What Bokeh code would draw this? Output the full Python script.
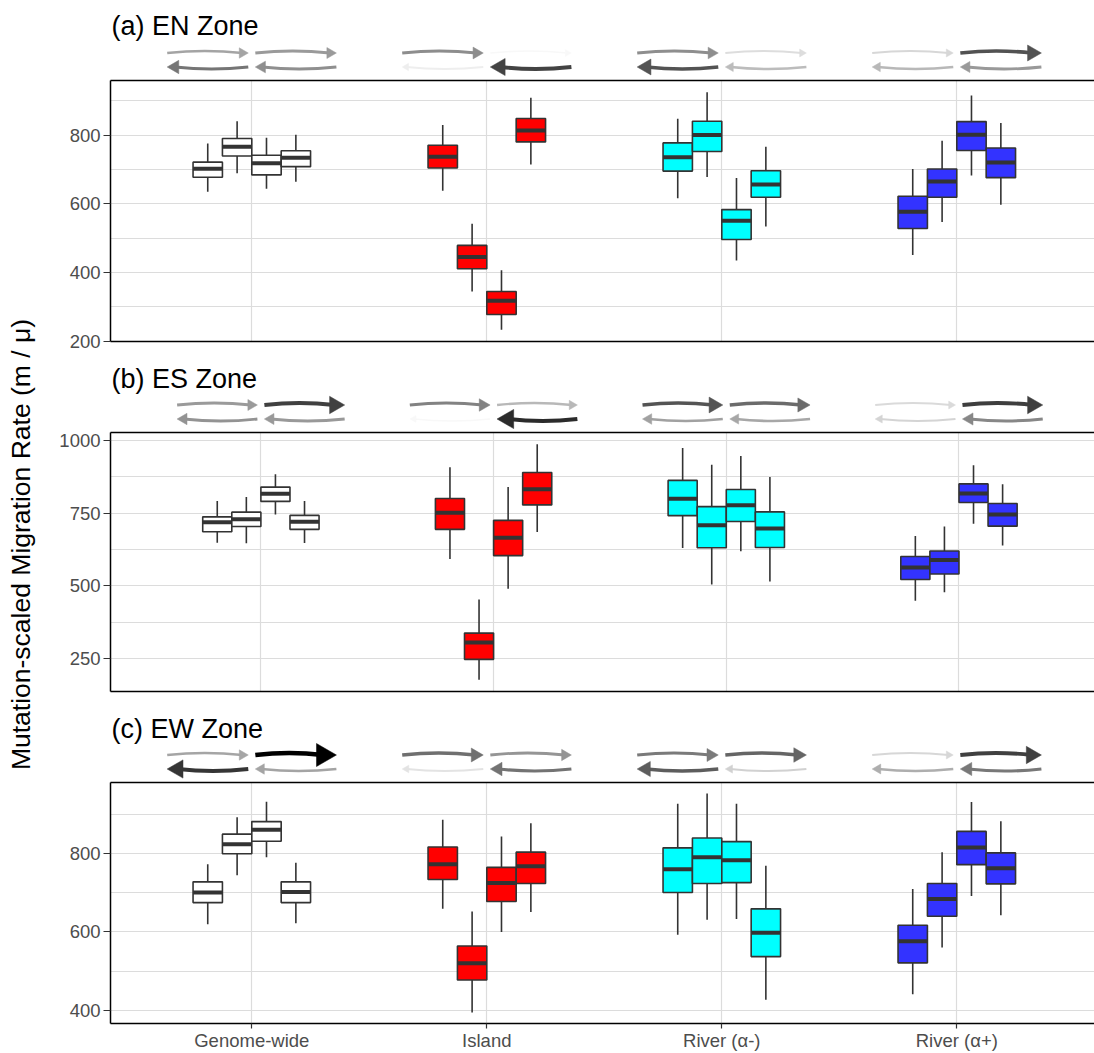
import math
from bokeh.plotting import figure
from bokeh.layouts import row, column
from bokeh.models import Range1d, FixedTicker, LinearAxis, ColumnDataSource, Label
from bokeh.core.properties import value
from bokeh.embed import file_html
from bokeh.resources import INLINE

# ---------------- data ----------------
categories = ["Genome-wide", "Island", "River (α-)", "River (α+)"]
category_fill = ["#FFFFFF", "#FF0000", "#00FFFF", "#3333FF"]

# 4 boxes per category, 16 values: lower whisker, Q1, median, Q3, upper whisker
EN_lower  = [635, 689, 644, 664, 638, 345, 234, 714, 616, 678, 435, 534, 451, 547, 682, 597]
EN_q1     = [677, 739, 684, 708, 704, 411, 278, 780, 695, 752, 496, 619, 528, 619, 755, 676]
EN_median = [702, 766, 718, 734, 737, 445, 318, 813, 735, 800, 551, 656, 577, 665, 801, 720]
EN_q3     = [721, 790, 741, 754, 770, 479, 345, 848, 777, 840, 583, 696, 622, 701, 839, 762]
EN_upper  = [775, 840, 792, 801, 829, 542, 407, 908, 847, 924, 675, 766, 701, 783, 915, 835]

ES_lower  = [648, 646, 745, 647, 592, 178, 490, 685, 630, 505, 619, 515, 449, 478, 713, 639]
ES_q1     = [686, 704, 790, 694, 694, 248, 604, 778, 741, 631, 721, 632, 522, 541, 786, 705]
ES_median = [718, 729, 816, 720, 751, 306, 665, 832, 799, 708, 777, 697, 563, 589, 817, 745]
ES_q3     = [737, 753, 839, 742, 800, 338, 725, 889, 862, 772, 831, 754, 601, 620, 850, 783]
ES_upper  = [791, 805, 883, 791, 907, 453, 839, 986, 973, 916, 946, 874, 671, 704, 914, 849]

EW_lower  = [620, 745, 791, 622, 659, 394, 600, 651, 593, 631, 633, 427, 441, 560, 692, 643]
EW_q1     = [675, 800, 832, 675, 734, 477, 678, 724, 701, 724, 726, 537, 521, 640, 772, 723]
EW_median = [701, 824, 861, 702, 773, 520, 725, 768, 760, 791, 783, 598, 576, 684, 816, 763]
EW_q3     = [728, 850, 882, 728, 817, 564, 765, 804, 815, 840, 831, 659, 617, 724, 857, 802]
EW_upper  = [773, 893, 933, 777, 887, 652, 844, 878, 928, 954, 928, 769, 710, 804, 932, 883]

EN_ticks, EN_minor = [200, 400, 600, 800], [300, 500, 700, 900]
ES_ticks, ES_minor = [250, 500, 750, 1000], [375, 625, 875]
EW_ticks, EW_minor = [400, 600, 800], [500, 700, 900]

titles = ["(a) EN Zone", "(b) ES Zone", "(c) EW Zone"]
y_title = "Mutation-scaled Migration Rate (m / μ)"

# ---------------- layout / style ----------------
FONT_NAME = "Liberation Sans"
FONT = value(FONT_NAME)
LABEL_W = 45
PANEL_W = 1049
FRAME_LEFT = 65
FRAME_W = PANEL_W - FRAME_LEFT
GRID = "#dcdcdc"
DARK = "#333333"
TICK_FS = "18.5px"
box_offsets = [-0.1875, -0.0625, 0.0625, 0.1875]
box_w = 0.125

zones = [
    dict(title=titles[0], lo=EN_lower, q1=EN_q1, med=EN_median, q3=EN_q3, hi=EN_upper,
         ticks=EN_ticks, minor=EN_minor, xr=(0.3987, 4.586), arr_h=77, plot_h=276,
         bottom=12, labels=False),
    dict(title=titles[1], lo=ES_lower, q1=ES_q1, med=ES_median, q3=ES_q3, hi=ES_upper,
         ticks=ES_ticks, minor=ES_minor, xr=(0.3537, 4.5824), arr_h=76, plot_h=274,
         bottom=12, labels=False),
    dict(title=titles[2], lo=EW_lower, q1=EW_q1, med=EW_median, q3=EW_q3, hi=EW_upper,
         ticks=EW_ticks, minor=EW_minor, xr=(0.3987, 4.586), arr_h=76, plot_h=274,
         bottom=0, labels=True),
]


def shade(m):
    a = min(1.0, math.exp((m - 860.0) / 153.0))
    g = int(round(255 * (1 - a)))
    return a, "#%02x%02x%02x" % (g, g, g)


def line_axis():
    return LinearAxis(ticker=FixedTicker(ticks=[]), major_tick_line_color=None,
                      minor_tick_line_color=None, major_label_text_font_size="0px",
                      major_tick_out=0, minor_tick_out=0, major_tick_in=0, minor_tick_in=0,
                      major_label_standoff=0, axis_line_color="black", axis_line_width=1.5)


def arrow_fig(z):
    xs, xe = z["xr"]
    u = FRAME_W / (xe - xs)
    h = z["arr_h"]
    p = figure(width=PANEL_W, height=h, x_range=Range1d(xs, xe), y_range=Range1d(0, h),
               x_axis_location=None, y_axis_location=None, toolbar_location=None,
               output_backend="svg", min_border_left=FRAME_LEFT, min_border_right=0,
               min_border_top=0, min_border_bottom=0, outline_line_color=None)
    p.grid.visible = False
    p.background_fill_color = "white"
    p.border_fill_color = "white"
    L = dict(x0=[], y0=[], x1=[], y1=[], cx=[], cy=[], c=[], w=[])
    H = dict(x=[], y=[], s=[], ang=[], c=[])
    for i in range(4):
        cc = i + 1
        for k in range(4):
            a, col = shade(z["med"][i * 4 + k])
            side = -1 if k < 2 else 1
            inner, outer = cc + side * 0.015, cc + side * 0.36
            lx, rx = min(inner, outer), max(inner, outer)
            if k % 2 == 0:
                tail, tip, d, y, bend = lx, rx, 1, 24.5, 4
            else:
                tail, tip, d, y, bend = rx, lx, -1, 10.5, -4
            size = 7 + 16 * a ** 1.5
            px = tip - d * 0.577 * size / u
            L["x0"].append(tail); L["y0"].append(y)
            L["x1"].append(px); L["y1"].append(y)
            L["cx"].append((tail + px) / 2); L["cy"].append(y + bend)
            L["c"].append(col); L["w"].append(1.6 + 3 * a)
            H["x"].append(px); H["y"].append(y); H["s"].append(size)
            H["ang"].append(-math.pi / 2 if d == 1 else math.pi / 2); H["c"].append(col)
    p.quadratic(x0="x0", y0="y0", x1="x1", y1="y1", cx="cx", cy="cy", line_color="c",
                line_width="w", source=ColumnDataSource(L))
    p.scatter(x="x", y="y", size="s", angle="ang", marker="triangle", fill_color="c",
              line_color="c", line_width=0.5, source=ColumnDataSource(H))
    p.add_layout(Label(x=xs + 1.0 / u, y=h - 10, text=z["title"],
                       text_align="left", text_baseline="top", text_font=FONT_NAME,
                       text_font_size="27px", text_color="black"))
    return p


def plot_fig(z):
    xs, xe = z["xr"]
    lo, hi = min(z["lo"]), max(z["hi"])
    pad = 0.05 * (hi - lo)
    p = figure(width=PANEL_W, height=z["plot_h"], x_range=Range1d(xs, xe),
               y_range=Range1d(lo - pad, hi + pad), x_axis_location=None, y_axis_location=None,
               toolbar_location=None, output_backend="svg", min_border_left=FRAME_LEFT,
               min_border_right=0, min_border_top=3, min_border_bottom=z["bottom"],
               outline_line_color=None)
    p.background_fill_color = "white"
    p.border_fill_color = "white"
    p.xgrid.ticker = FixedTicker(ticks=[1, 2, 3, 4])
    p.ygrid.ticker = FixedTicker(ticks=z["ticks"], minor_ticks=z["minor"])
    p.xgrid.grid_line_color = GRID
    p.ygrid.grid_line_color = GRID
    p.ygrid.minor_grid_line_color = GRID
    p.xgrid.grid_line_width = 1.2
    p.ygrid.grid_line_width = 1.2
    p.ygrid.minor_grid_line_width = 1.0

    yax = LinearAxis(ticker=FixedTicker(ticks=z["ticks"]), axis_line_color="black",
                     axis_line_width=1.5, major_tick_line_color=DARK, major_tick_line_width=1.2,
                     major_tick_out=7, major_tick_in=0, minor_tick_line_color=None,
                     major_label_text_font=FONT_NAME, major_label_text_font_size=TICK_FS,
                     major_label_text_color="#4d4d4d", major_label_standoff=3)
    p.add_layout(yax, "left")
    p.add_layout(line_axis(), "above")
    if z["labels"]:
        xax = LinearAxis(ticker=FixedTicker(ticks=[1, 2, 3, 4]),
                         major_label_overrides={i + 1: c for i, c in enumerate(categories)},
                         axis_line_color="black", axis_line_width=1.5,
                         major_tick_line_color=DARK, major_tick_line_width=1.2,
                         major_tick_out=5, major_tick_in=0, minor_tick_line_color=None,
                         major_label_text_font=FONT_NAME, major_label_text_font_size=TICK_FS,
                         major_label_text_color="#4d4d4d", major_label_standoff=1)
        p.add_layout(xax, "below")
    else:
        p.add_layout(line_axis(), "below")

    xs_, fill = [], []
    for i in range(4):
        for k in range(4):
            xs_.append(i + 1 + box_offsets[k])
            fill.append(category_fill[i])
    src = ColumnDataSource(dict(x=xs_, lo=z["lo"], q1=z["q1"], med=z["med"], q3=z["q3"],
                                hi=z["hi"], fill=fill,
                                xl=[v - box_w / 2 for v in xs_], xr=[v + box_w / 2 for v in xs_]))
    p.segment(x0="x", y0="lo", x1="x", y1="q1", line_color=DARK, line_width=1.6, source=src)
    p.segment(x0="x", y0="q3", x1="x", y1="hi", line_color=DARK, line_width=1.6, source=src)
    p.vbar(x="x", width=box_w, bottom="q1", top="q3", fill_color="fill", line_color=DARK,
           line_width=1.6, source=src)
    p.segment(x0="xl", y0="med", x1="xr", y1="med", line_color=DARK, line_width=4, source=src)
    return p


label = figure(width=LABEL_W, height=1053, x_range=Range1d(0, LABEL_W), y_range=Range1d(0, 1053),
               x_axis_location=None, y_axis_location=None, toolbar_location=None,
               output_backend="svg", min_border=0, outline_line_color=None)
label.grid.visible = False
label.text(x=[20], y=[1053 - 544], text=[y_title], angle=math.pi / 2, text_align="center",
           text_baseline="middle", text_font=FONT, text_font_size="26.5px", text_color="black")

figs = []
for z in zones:
    figs.append(arrow_fig(z))
    figs.append(plot_fig(z))

layout = row(label, column(*figs, spacing=0), spacing=0)
open("out.html", "w").write(file_html(layout, INLINE, title="Migration rates"))
